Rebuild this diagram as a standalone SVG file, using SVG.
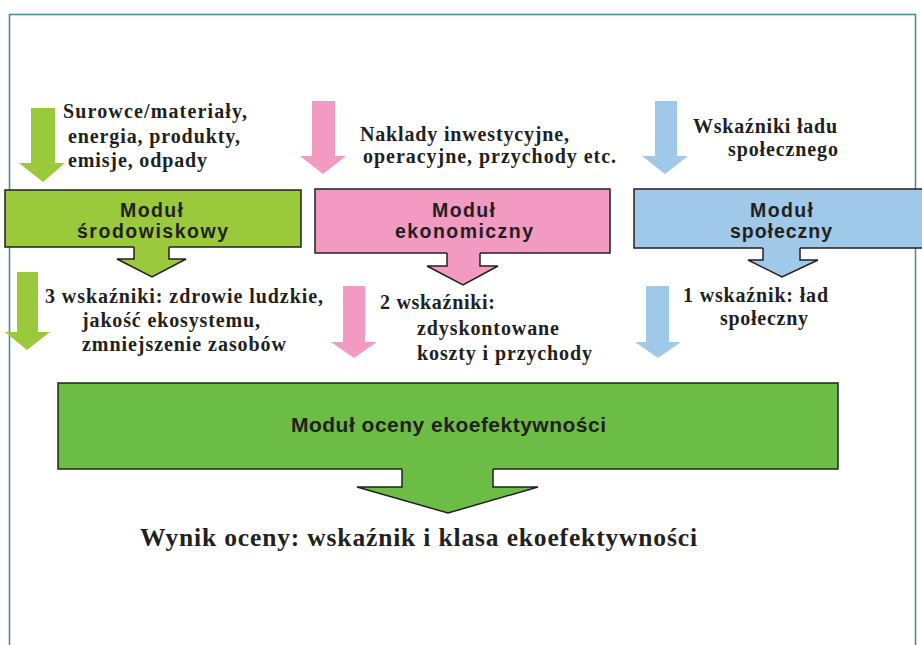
<svg xmlns="http://www.w3.org/2000/svg" width="922" height="645" viewBox="0 0 922 645">
  <style>
    .frame { fill: none; stroke: #4a8e9e; stroke-width: 1.6; }
    .box { stroke: #231f20; stroke-width: 1.5; }
    .env { fill: #9aca3c; }
    .eco { fill: #f29ac1; }
    .soc { fill: #9fc8e9; }
    .main { fill: #6bbd46; }
    .edge { fill: none; stroke: #231f20; stroke-width: 1.5; stroke-linejoin: miter; }
    .lbl { font-family: "Liberation Sans", Arial, sans-serif; font-weight: bold; font-size: 19.5px; fill: #231f20; }
    .big { font-size: 21px; }
    .note { font-family: "Liberation Serif", "Times New Roman", serif; font-weight: bold; font-size: 20px; fill: #231f20; }
    .result { font-family: "Liberation Serif", "Times New Roman", serif; font-weight: bold; font-size: 25.5px; fill: #231f20; }
  </style>

  <rect width="922" height="645" fill="#ffffff"/>
  <!-- outer frame -->
  <rect class="frame" x="9.5" y="14.5" width="906" height="660"/>

  <!-- module nodes -->
  <g id="modul-srodowiskowy">
    <rect class="box env" x="5" y="190" width="296" height="57"/>
    <text class="lbl" x="120" y="217" textLength="63">Moduł</text>
    <text class="lbl" x="77" y="238" textLength="151">środowiskowy</text>
  </g>
  <g id="modul-ekonomiczny">
    <rect class="box eco" x="315" y="189" width="295" height="64"/>
    <text class="lbl" x="432" y="217" textLength="63">Moduł</text>
    <text class="lbl" x="395" y="238" textLength="138">ekonomiczny</text>
  </g>
  <g id="modul-spoleczny">
    <rect class="box soc" x="634" y="189" width="300" height="59"/>
    <text class="lbl" x="750" y="217" textLength="63">Moduł</text>
    <text class="lbl" x="730" y="238" textLength="102">społeczny</text>
  </g>
  <g id="modul-oceny">
    <rect class="box main" x="58" y="383" width="780" height="86"/>
    <text class="lbl big" x="291" y="432" textLength="315">Moduł oceny ekoefektywności</text>
  </g>

  <!-- input / output notes -->
  <g id="wejscie-srodowiskowe">
    <text class="note" x="63" y="118" textLength="184">Surowce/materiały,</text>
    <text class="note" x="68" y="143" textLength="172">energia, produkty,</text>
    <text class="note" x="68" y="167" textLength="139">emisje, odpady</text>
  </g>
  <g id="wejscie-ekonomiczne">
    <text class="note" x="360" y="141" textLength="209">Naklady inwestycyjne,</text>
    <text class="note" x="363" y="163" textLength="253">operacyjne, przychody  etc.</text>
  </g>
  <g id="wejscie-spoleczne">
    <text class="note" x="693" y="133" textLength="144">Wskaźniki ładu</text>
    <text class="note" x="728" y="156" textLength="110">społecznego</text>
  </g>
  <g id="wskazniki-srodowiskowe">
    <text class="note" x="45" y="303" textLength="278">3 wskaźniki: zdrowie ludzkie,</text>
    <text class="note" x="82" y="327" textLength="178">jakość ekosystemu,</text>
    <text class="note" x="82" y="351" textLength="204">zmniejszenie zasobów</text>
  </g>
  <g id="wskazniki-ekonomiczne">
    <text class="note" x="380" y="309" textLength="115">2 wskaźniki:</text>
    <text class="note" x="417" y="335" textLength="142">zdyskontowane</text>
    <text class="note" x="417" y="360" textLength="175">koszty i przychody</text>
  </g>
  <g id="wskaznik-spoleczny">
    <text class="note" x="683" y="302" textLength="145">1 wskaźnik: ład</text>
    <text class="note" x="720" y="325" textLength="88">społeczny</text>
  </g>
  <g id="wynik">
    <text class="result" x="140" y="546" textLength="557">Wynik oceny: wskaźnik i klasa ekoefektywności</text>
  </g>

  <!-- connectors: block arrows -->
  <g id="connectors">
    <!-- inputs into the modules -->
    <polygon class="env" points="31,108 55,108 55,163 65,163 43,182 19,163 31,163"/>
    <polygon class="eco" points="312,101 335,101 335,156 346,156 323,174 300,156 312,156"/>
    <polygon class="soc" points="655,101 677,101 677,156 688,156 665,174 642,156 655,156"/>

    <!-- indicators into the assessment module -->
    <polygon class="env" points="17,272 38,272 38,332 50,332 27,350 5,332 17,332"/>
    <polygon class="eco" points="343,286 365,286 365,342 377,342 354,358 331,342 343,342"/>
    <polygon class="soc" points="646,286 669,286 669,342 681,342 658,358 635,342 646,342"/>

    <!-- outlined arrows leaving each module -->
    <polygon class="env" points="134,246 169,246 169,259 186,259 152,277 117,259 134,259"/>
    <polyline class="edge" points="134,247 134,259 117,259 152,277 186,259 169,259 169,247"/>

    <polygon class="eco" points="447,252 480,252 480,266 498,266 463,285 427,266 447,266"/>
    <polyline class="edge" points="447,253 447,266 427,266 463,285 498,266 480,266 480,253"/>

    <polygon class="soc" points="763,247 800,247 800,260 818,260 782,277 748,260 763,260"/>
    <polyline class="edge" points="763,248 763,260 748,260 782,277 818,260 800,260 800,248"/>

    <polygon class="main" points="402,468 493,468 493,487 538,487 448,513 357,487 402,487"/>
    <polyline class="edge" points="402,469 402,487 357,487 448,513 538,487 493,487 493,469"/>
  </g>
</svg>
